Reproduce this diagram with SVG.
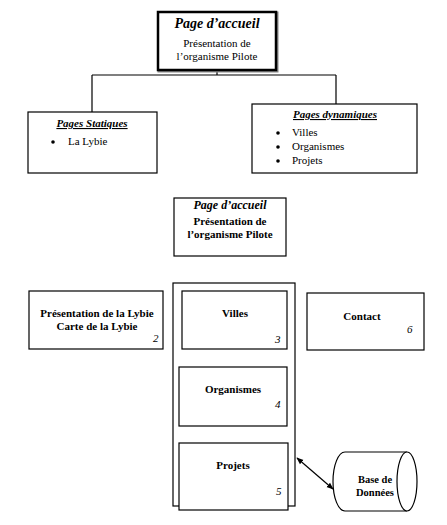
<svg xmlns="http://www.w3.org/2000/svg" width="447" height="525" viewBox="0 0 447 525">
<style>
text{font-family:"Liberation Serif","Times New Roman",serif;fill:#000;}
.box{fill:#fff;stroke:#000;stroke-width:1.2;}
.ln{fill:none;stroke:#000;stroke-width:1.2;}
.h{font-weight:bold;font-style:italic;font-size:11px;text-decoration:underline;}
.r{font-size:11px;}
.b{font-size:11px;font-weight:bold;}
.n{font-size:11px;font-style:italic;}
</style>
<defs>
<marker id="ah" viewBox="0 0 10 10" refX="9" refY="5" markerWidth="7" markerHeight="7" orient="auto-start-reverse" markerUnits="userSpaceOnUse"><path d="M0,1 L10,5 L0,9 z" fill="#000"/></marker>
</defs>
<g id="connectors">
<path class="ln" d="M217,65 V75 M92,75 H336 M92,75 V112 M336,75 V104"/>
<line class="ln" x1="297" y1="458" x2="333" y2="489" marker-start="url(#ah)" marker-end="url(#ah)"/>
</g>
<g id="accueil-top">
<rect x="159" y="13" width="118" height="58" fill="#fff" stroke="#888" stroke-width="3"/>
<rect x="158" y="12" width="118" height="58" fill="#fff" stroke="#000" stroke-width="2.5"/>
<text x="217" y="28" text-anchor="middle" font-size="14" font-weight="bold" font-style="italic">Page d’accueil</text>
<text x="217" y="47" text-anchor="middle" class="r">Présentation de</text>
<text x="217" y="60" text-anchor="middle" class="r">l’organisme Pilote</text>
</g>
<g id="statiques">
<rect class="box" x="28" y="112" width="129" height="61"/>
<text x="92" y="127" text-anchor="middle" class="h">Pages Statiques</text>
<circle cx="53" cy="142" r="1.8"/>
<text x="68" y="145" class="r">La Lybie</text>
</g>
<g id="dynamiques">
<rect class="box" x="252" y="104" width="165" height="69"/>
<text x="335" y="118" text-anchor="middle" class="h">Pages dynamiques</text>
<circle cx="278" cy="133" r="1.8"/>
<text x="292" y="136" class="r">Villes</text>
<circle cx="278" cy="147" r="1.8"/>
<text x="292" y="150" class="r">Organismes</text>
<circle cx="278" cy="161" r="1.8"/>
<text x="292" y="164" class="r">Projets</text>
</g>
<g id="accueil">
<rect class="box" x="174" y="198" width="112" height="58"/>
<text x="230" y="209" text-anchor="middle" font-size="12" font-weight="bold" font-style="italic">Page d’accueil</text>
<text x="230" y="225" text-anchor="middle" class="b">Présentation de</text>
<text x="230" y="238" text-anchor="middle" class="b">l’organisme Pilote</text>
</g>
<g id="lybie">
<rect class="box" x="29" y="291" width="134" height="58"/>
<text x="97" y="317" text-anchor="middle" class="b">Présentation de la Lybie</text>
<text x="97" y="330" text-anchor="middle" class="b">Carte de la Lybie</text>
<text x="153" y="342" class="n">2</text>
</g>
<g id="dyn-group">
<rect class="box" x="173" y="283" width="122" height="223"/>
</g>
<g id="villes">
<rect class="box" x="182" y="291" width="105" height="58"/>
<text x="235" y="317" text-anchor="middle" class="b">Villes</text>
<text x="275" y="343" class="n">3</text>
</g>
<g id="organismes">
<rect class="box" x="179" y="367" width="108" height="59"/>
<text x="233" y="393" text-anchor="middle" class="b">Organismes</text>
<text x="275" y="408" class="n">4</text>
</g>
<g id="projets">
<rect class="box" x="179" y="443" width="109" height="67"/>
<text x="233" y="469" text-anchor="middle" class="b">Projets</text>
<text x="276" y="495" class="n">5</text>
</g>
<g id="contact">
<rect class="box" x="307" y="293" width="117" height="57"/>
<text x="362" y="320" text-anchor="middle" class="b">Contact</text>
<text x="407" y="333" class="n">6</text>
</g>
<g id="bdd">
<path class="box" d="M407,452 H345 A12,29.5 0 0 0 345,511 H407"/>
<ellipse class="box" cx="407" cy="481.5" rx="10" ry="29.5"/>
<text x="375" y="483" text-anchor="middle" font-size="10.5" font-weight="bold">Base de</text>
<text x="375" y="496" text-anchor="middle" font-size="10.5" font-weight="bold">Données</text>
</g>
</svg>
